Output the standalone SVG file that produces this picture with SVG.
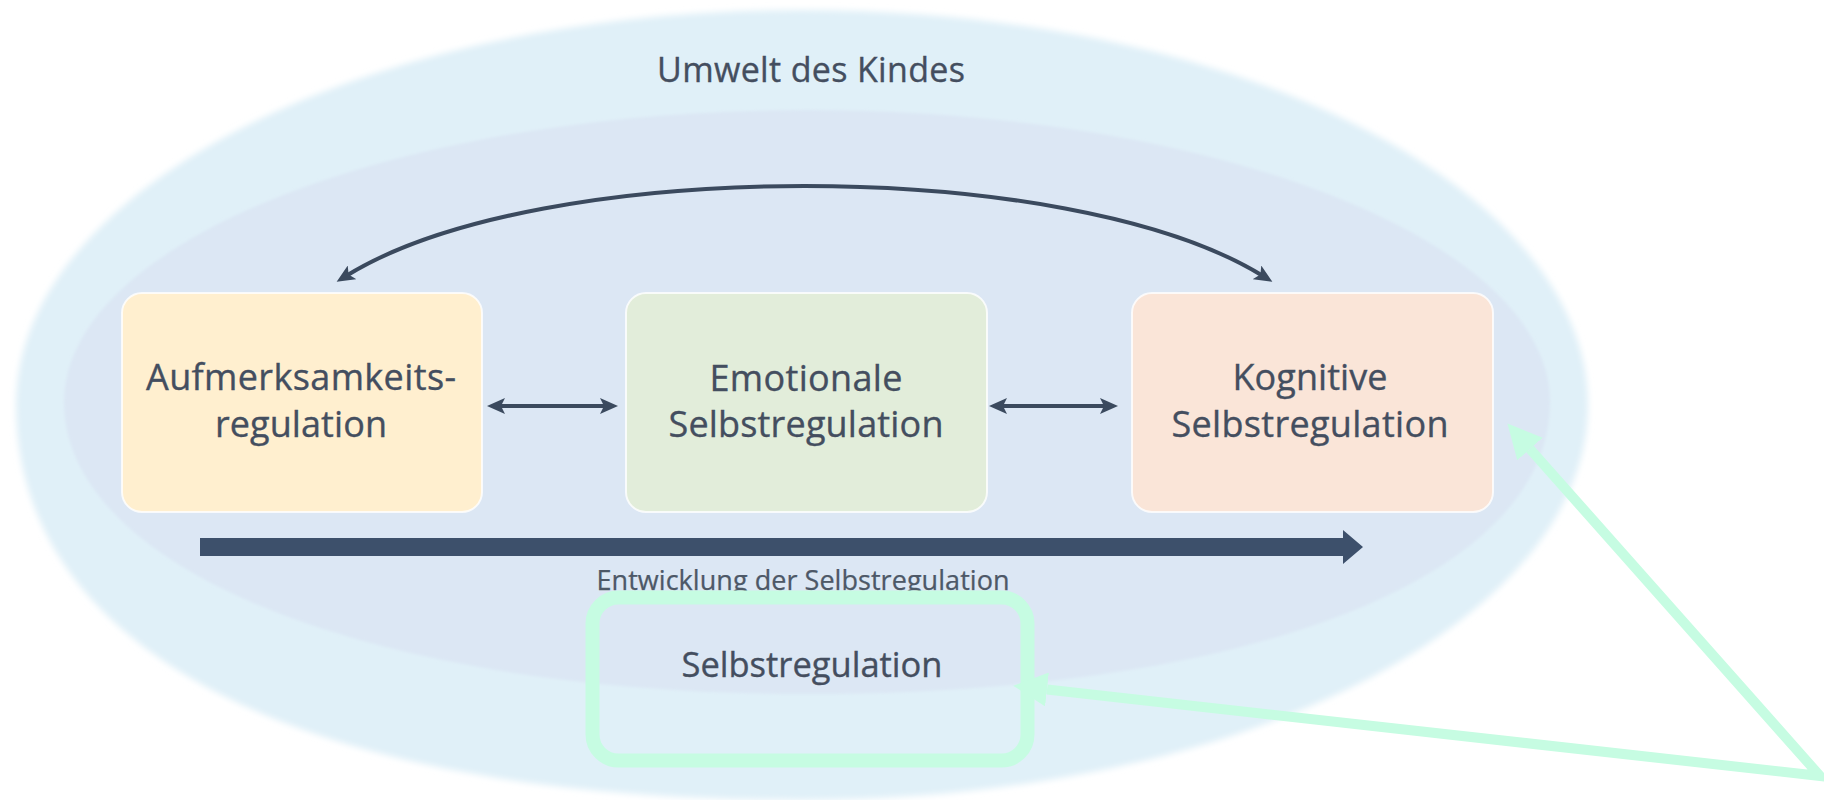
<svg xmlns="http://www.w3.org/2000/svg" width="1824" height="800" viewBox="0 0 1824 800">
  <style>
    .lbl { font-family: "Open Sans", "Liberation Sans", sans-serif; fill: #444e5f; stroke: #444e5f; stroke-width: 0.35; text-anchor: middle; }
    .big { font-size: 36px; }
    .env { font-size: 34px; }
    .small { font-size: 27px; fill: #4d5867; stroke: #4d5867; stroke-width: 0.25; }
    .box { stroke: #ffffff; stroke-width: 2; stroke-opacity: 0.8; }
    .link { fill: none; stroke: #3b4a5e; stroke-width: 4; }
    .hl { fill: none; stroke: #c6fce2; }
  </style>
  <defs>
    <filter id="soft" x="-5%" y="-5%" width="110%" height="110%">
      <feGaussianBlur stdDeviation="3"/>
    </filter>
    <filter id="soft2" x="-5%" y="-5%" width="110%" height="110%">
      <feGaussianBlur stdDeviation="1.5"/>
    </filter>
    <!-- small dark arrowhead for the relation arrows -->
    <marker id="dk" viewBox="0 0 18 16" markerUnits="userSpaceOnUse" markerWidth="18" markerHeight="16" refX="7" refY="8" orient="auto-start-reverse">
      <path d="M0,0 L18,8 L0,16 L4,8 Z" fill="#3b4a5e"/>
    </marker>
    <!-- mint arrowhead for the highlight pointer -->
    <marker id="mint" viewBox="0 0 34 34" markerUnits="userSpaceOnUse" markerWidth="34" markerHeight="34" refX="0" refY="17" orient="auto-start-reverse">
      <path d="M0,0 L34,17 L0,34 Z" fill="#c6fce2"/>
    </marker>
  </defs>

  <rect width="1824" height="800" fill="#ffffff"/>

  <!-- environment: outer and inner ellipse -->
  <g id="environment">
    <path filter="url(#soft)" fill="#e0f0f8" d="M16,405 C16,187 368,10 802,10 C1236,10 1588,187 1588,405 C1588,623 1236,800 802,800 C307,800 16,654 16,405 Z"/>
    <path filter="url(#soft2)" fill="#dce7f4" d="M64,402 C64,241 397,110 807,110 C1217,110 1550,241 1550,402 C1550,577 1253,694 807,694 C376,694 64,571 64,402 Z"/>
    <text class="lbl env" x="811" y="82" textLength="308">Umwelt des Kindes</text>
  </g>

  <!-- the three regulation areas -->
  <g id="attention">
    <rect class="box" x="122" y="293" width="360" height="219" rx="20" fill="#ffefcf"/>
    <text class="lbl big" x="301" y="390" textLength="310">Aufmerksamkeits-</text>
    <text class="lbl big" x="301" y="437" textLength="172">regulation</text>
  </g>
  <g id="emotional">
    <rect class="box" x="626" y="293" width="361" height="219" rx="20" fill="#e2edda"/>
    <text class="lbl big" x="806" y="391" textLength="193">Emotionale</text>
    <text class="lbl big" x="806" y="437" textLength="275">Selbstregulation</text>
  </g>
  <g id="cognitive">
    <rect class="box" x="1132" y="293" width="361" height="219" rx="20" fill="#fae5d8"/>
    <text class="lbl big" x="1310" y="390" textLength="155">Kognitive</text>
    <text class="lbl big" x="1310" y="437" textLength="277">Selbstregulation</text>
  </g>

  <!-- connectors -->
  <g id="connectors">
    <path class="link" d="M346,276 C540,156 1069,156 1263,276" marker-start="url(#dk)" marker-end="url(#dk)"/>
    <path class="link" d="M498,406 L607,406" marker-start="url(#dk)" marker-end="url(#dk)"/>
    <path class="link" d="M1000,406 L1107,406" marker-start="url(#dk)" marker-end="url(#dk)"/>
    <!-- development arrow -->
    <path d="M200,538 H1343 V530 L1363,547 L1343,564 V556 H200 Z" fill="#3d506b"/>
  </g>

  <g id="development">
    <text class="lbl small" x="803" y="590" textLength="413">Entwicklung der Selbstregulation</text>
  </g>

  <!-- highlighted term with pointer -->
  <g id="selfregulation">
    <rect class="hl" x="592.5" y="597.5" width="435" height="163" rx="26" stroke-width="14"/>
    <text class="lbl" x="812" y="677" font-size="34.5" textLength="261">Selbstregulation</text>
  </g>
  <g id="pointer">
    <path class="hl" stroke-width="10" stroke-linejoin="miter" d="M1047,689.5 L1820,776 L1530,449" marker-start="url(#mint)" marker-end="url(#mint)"/>
  </g>
</svg>
